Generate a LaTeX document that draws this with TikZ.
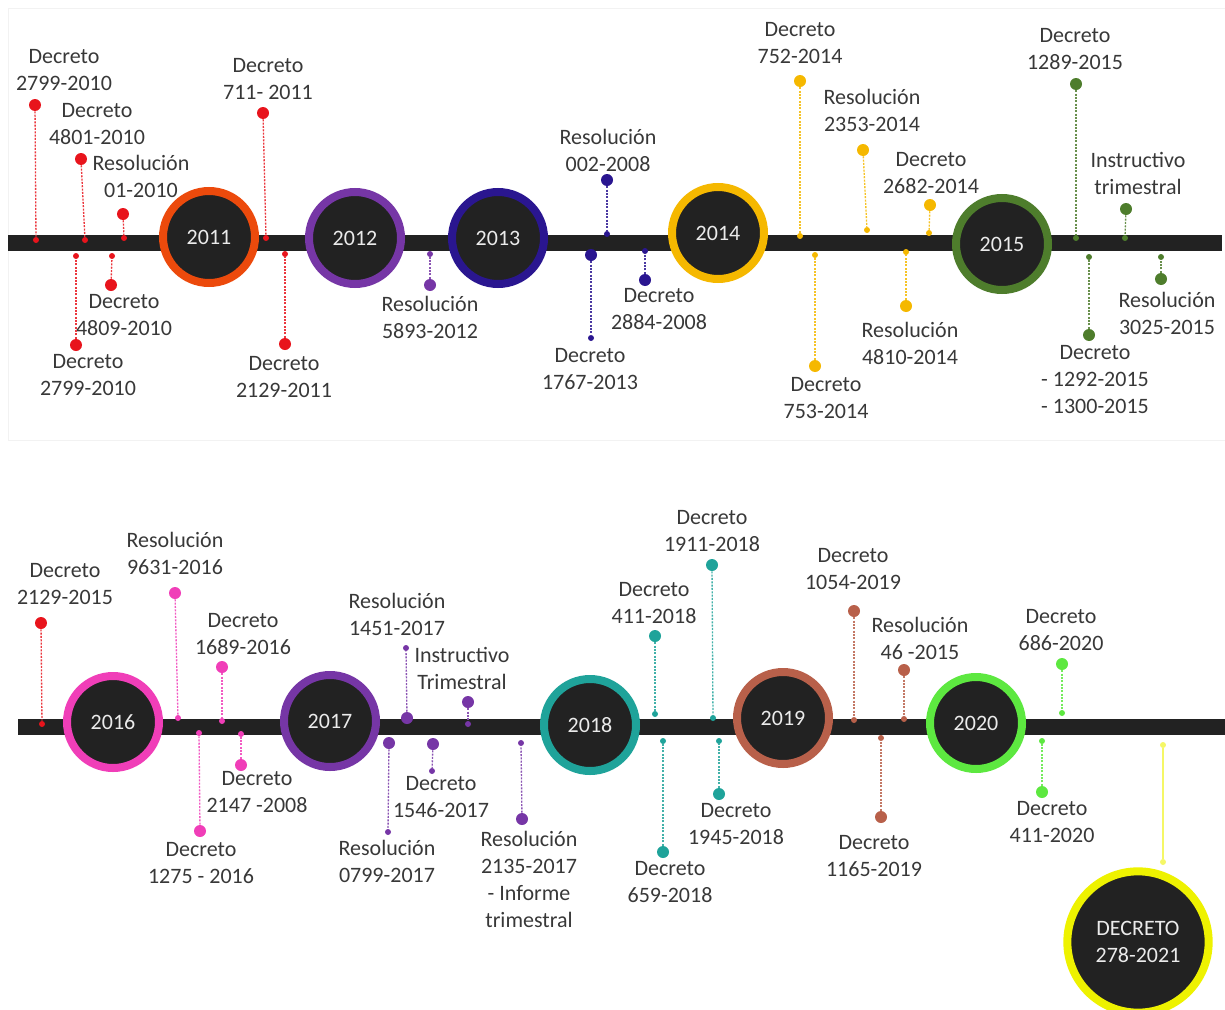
\documentclass[tikz,border=0pt]{standalone}
\usepackage{fontspec}
\setmainfont{Carlito}
\definecolor{testo}{HTML}{383838}
\definecolor{nero}{HTML}{222222}
\definecolor{rosso}{HTML}{E8141C}
\definecolor{arancio}{HTML}{EC4A0C}
\definecolor{viola}{HTML}{7636A6}
\definecolor{blu}{HTML}{2A1690}
\definecolor{oro}{HTML}{F5B800}
\definecolor{verde}{HTML}{4E7D2C}
\definecolor{magenta}{HTML}{F03EB8}
\definecolor{turchese}{HTML}{1FA39A}
\definecolor{marrone}{HTML}{B8604A}
\definecolor{verdechiaro}{HTML}{5DE840}
\definecolor{giallo}{HTML}{EEF200}
\tikzset{
    punto/.style={circle, fill=#1, inner sep=0pt, minimum size=9pt},
    tacca/.style={circle, fill=#1, inner sep=0pt, minimum size=4.5pt},
    filo/.style={draw=#1!85, dash pattern=on 1.5pt off 1pt, line width=1pt},
    etichetta/.style={align=center, text=testo, inner sep=0pt, font=\fontsize{16.5}{20.25}\selectfont},
    anno/.style={circle, draw=#1, line width=6pt, fill=nero, text=black!8, align=center, minimum size=69pt, inner sep=0pt, font=\fontsize{16.5}{20.25}\selectfont},
    barra/.style={nero, line width=11.5pt}
}
\begin{document}
\begin{tikzpicture}[x=0.75pt, y=-0.75pt]
\useasboundingbox (0,0) rectangle (1225,1010);
\draw[black!5] (8,8) rectangle (1225,440);

%linea superiore
\coordinate (ini1) at (8,243);
\coordinate (fin1) at (1222,243);
\draw[barra] (ini1) -- (fin1);

%anni 2011-2015
\node[anno=arancio] (c2011) at (209,237) {2011};
\node[anno=viola] (c2012) at (355,238) {2012};
\node[anno=blu] (c2013) at (498,238) {2013};
\node[anno=oro] (c2014) at (718,233) {2014};
\node[anno=verde] (c2015) at (1002,244) {2015};

%eventi 2010-2011 (rosso)
\node[punto=rosso] (p1) at (35,105) {};
\node[tacca=rosso] (q1) at (36,240) {};
\draw[filo=rosso] (p1) -- (q1);
\node[etichetta] (t1) at (64,70) {Decreto\\2799-2010};

\node[punto=rosso] (p2) at (81,159) {};
\node[tacca=rosso] (q2) at (85,240) {};
\draw[filo=rosso] (p2) -- (q2);
\node[etichetta] (t2) at (97,124) {Decreto\\4801-2010};

\node[punto=rosso] (p3) at (123,214) {};
\node[tacca=rosso] (q3) at (124,238) {};
\draw[filo=rosso] (p3) -- (q3);
\node[etichetta] (t3) at (141,176) {Resolución\\01-2010};

\node[punto=rosso] (p4) at (111,285) {};
\node[tacca=rosso] (q4) at (112,256) {};
\draw[filo=rosso] (p4) -- (q4);
\node[etichetta] (t4) at (124,315) {Decreto\\4809-2010};

\node[punto=rosso] (p5) at (76,345) {};
\node[tacca=rosso] (q5) at (76,256) {};
\draw[filo=rosso] (p5) -- (q5);
\node[etichetta] (t5) at (88,375) {Decreto\\2799-2010};

\node[punto=rosso] (p6) at (263,113) {};
\node[tacca=rosso] (q6) at (266,238) {};
\draw[filo=rosso] (p6) -- (q6);
\node[etichetta] (t6) at (268,79) {Decreto\\711- 2011};

\node[punto=rosso] (p7) at (285,344) {};
\node[tacca=rosso] (q7) at (285,254) {};
\draw[filo=rosso] (p7) -- (q7);
\node[etichetta] (t7) at (284,377) {Decreto\\2129-2011};

%eventi 2012 (viola)
\node[punto=viola] (p8) at (430,285) {};
\node[tacca=viola] (q8) at (430,254) {};
\draw[filo=viola] (p8) -- (q8);
\node[etichetta] (t8) at (430,317) {Resolución\\5893-2012};

%eventi 2013 (blu)
\node[punto=blu] (p9) at (607,180) {};
\node[tacca=blu] (q9) at (607,234) {};
\draw[filo=blu] (p9) -- (q9);
\node[etichetta] (t9) at (608,150) {Resolución\\002-2008};

\node[punto=blu] (p10) at (591,255) {};
\node[tacca=blu] (q10) at (591,338) {};
\draw[filo=blu] (p10) -- (q10);
\node[etichetta] (t10) at (590,369) {Decreto\\1767-2013};

\node[punto=blu] (p11) at (645,280) {};
\node[tacca=blu] (q11) at (645,251) {};
\draw[filo=blu] (p11) -- (q11);
\node[etichetta] (t11) at (659,309) {Decreto\\2884-2008};

%eventi 2014 (oro)
\node[punto=oro] (p12) at (800,81) {};
\node[tacca=oro] (q12) at (800,236) {};
\draw[filo=oro] (p12) -- (q12);
\node[etichetta] (t12) at (800,43) {Decreto\\752-2014};

\node[punto=oro] (p13) at (863,150) {};
\node[tacca=oro] (q13) at (867,230) {};
\draw[filo=oro] (p13) -- (q13);
\node[etichetta] (t13) at (872,110) {Resolución\\2353-2014};

\node[punto=oro] (p14) at (930,205) {};
\node[tacca=oro] (q14) at (929,233) {};
\draw[filo=oro] (p14) -- (q14);
\node[etichetta] (t14) at (931,173) {Decreto\\2682-2014};

\node[punto=oro] (p15) at (815,366) {};
\node[tacca=oro] (q15) at (815,255) {};
\draw[filo=oro] (p15) -- (q15);
\node[etichetta] (t15) at (826,398) {Decreto\\753-2014};

\node[punto=oro] (p16) at (906,306) {};
\node[tacca=oro] (q16) at (906,252) {};
\draw[filo=oro] (p16) -- (q16);
\node[etichetta] (t16) at (910,343) {Resolución\\4810-2014};

%eventi 2015 (verde)
\node[punto=verde] (p17) at (1076,84) {};
\node[tacca=verde] (q17) at (1076,238) {};
\draw[filo=verde] (p17) -- (q17);
\node[etichetta] (t17) at (1075,49) {Decreto\\1289-2015};

\node[punto=verde] (p18) at (1126,209) {};
\node[tacca=verde] (q18) at (1125,238) {};
\draw[filo=verde] (p18) -- (q18);
\node[etichetta] (t18) at (1138,173) {Instructivo\\trimestral};

\node[punto=verde] (p19) at (1089,335) {};
\node[tacca=verde] (q19) at (1089,257) {};
\draw[filo=verde] (p19) -- (q19);
\node[etichetta] (t19) at (1095,380) {Decreto\\- 1292-2015\\- 1300-2015};

\node[punto=verde] (p20) at (1161,279) {};
\node[tacca=verde] (q20) at (1161,257) {};
\draw[filo=verde] (p20) -- (q20);
\node[etichetta] (t20) at (1167,313) {Resolución\\3025-2015};

%linea inferiore
\coordinate (ini2) at (18,727);
\coordinate (fin2) at (1225,727);
\draw[barra] (ini2) -- (fin2);

%anni 2016-2020
\node[anno=magenta] (c2016) at (113,722) {2016};
\node[anno=viola] (c2017) at (330,721) {2017};
\node[anno=turchese] (c2018) at (590,725) {2018};
\node[anno=marrone] (c2019) at (783,718) {2019};
\node[anno=verdechiaro] (c2020) at (976,723) {2020};

%evento 2015 (rosso)
\node[punto=rosso] (p21) at (41,623) {};
\node[tacca=rosso] (q21) at (42,724) {};
\draw[filo=rosso] (p21) -- (q21);
\node[etichetta] (t21) at (65,584) {Decreto\\2129-2015};

%eventi 2016 (magenta)
\node[punto=magenta] (p22) at (175,593) {};
\node[tacca=magenta] (q22) at (178,718) {};
\draw[filo=magenta] (p22) -- (q22);
\node[etichetta] (t22) at (175,553) {Resolución\\9631-2016};

\node[punto=magenta] (p23) at (222,667) {};
\node[tacca=magenta] (q23) at (222,721) {};
\draw[filo=magenta] (p23) -- (q23);
\node[etichetta] (t23) at (243,634) {Decreto\\1689-2016};

\node[punto=magenta] (p24) at (200,831) {};
\node[tacca=magenta] (q24) at (199,733) {};
\draw[filo=magenta] (p24) -- (q24);
\node[etichetta] (t24) at (201,863) {Decreto\\1275 - 2016};

\node[punto=magenta] (p25) at (241,765) {};
\node[tacca=magenta] (q25) at (241,734) {};
\draw[filo=magenta] (p25) -- (q25);
\node[etichetta] (t25) at (257,792) {Decreto\\2147 -2008};

%eventi 2017 (viola)
\node[punto=viola] (p26) at (407,718) {};
\node[tacca=viola] (q26) at (406,648) {};
\draw[filo=viola] (p26) -- (q26);
\node[etichetta] (t26) at (397,614) {Resolución\\1451-2017};

\node[punto=viola] (p27) at (468,702) {};
\node[tacca=viola] (q27) at (468,724) {};
\draw[filo=viola] (p27) -- (q27);
\node[etichetta] (t27) at (462,668) {Instructivo\\Trimestral};

\node[punto=viola] (p28) at (389,743) {};
\node[tacca=viola] (q28) at (388,832) {};
\draw[filo=viola] (p28) -- (q28);
\node[etichetta] (t28) at (387,861) {Resolución\\0799-2017};

\node[punto=viola] (p29) at (433,744) {};
\node[tacca=viola] (q29) at (432,771) {};
\draw[filo=viola] (p29) -- (q29);
\node[etichetta] (t29) at (441,797) {Decreto\\1546-2017};

\node[punto=viola] (p30) at (522,819) {};
\node[tacca=viola] (q30) at (521,743) {};
\draw[filo=viola] (p30) -- (q30);
\node[etichetta] (t30) at (529,879) {Resolución\\2135-2017\\- Informe\\trimestral};

%eventi 2018 (turchese)
\node[punto=turchese] (p31) at (655,636) {};
\node[tacca=turchese] (q31) at (655,714) {};
\draw[filo=turchese] (p31) -- (q31);
\node[etichetta] (t31) at (654,603) {Decreto\\411-2018};

\node[punto=turchese] (p32) at (712,565) {};
\node[tacca=turchese] (q32) at (713,718) {};
\draw[filo=turchese] (p32) -- (q32);
\node[etichetta] (t32) at (712,531) {Decreto\\1911-2018};

\node[punto=turchese] (p33) at (663,852) {};
\node[tacca=turchese] (q33) at (663,741) {};
\draw[filo=turchese] (p33) -- (q33);
\node[etichetta] (t33) at (670,882) {Decreto\\659-2018};

\node[punto=turchese] (p34) at (719,794) {};
\node[tacca=turchese] (q34) at (719,741) {};
\draw[filo=turchese] (p34) -- (q34);
\node[etichetta] (t34) at (736,824) {Decreto\\1945-2018};

%eventi 2019 (marrone)
\node[punto=marrone] (p35) at (854,611) {};
\node[tacca=marrone] (q35) at (854,720) {};
\draw[filo=marrone] (p35) -- (q35);
\node[etichetta] (t35) at (853,569) {Decreto\\1054-2019};

\node[punto=marrone] (p36) at (904,670) {};
\node[tacca=marrone] (q36) at (904,719) {};
\draw[filo=marrone] (p36) -- (q36);
\node[etichetta] (t36) at (920,638) {Resolución\\46 -2015};

\node[punto=marrone] (p37) at (881,817) {};
\node[tacca=marrone] (q37) at (881,738) {};
\draw[filo=marrone] (p37) -- (q37);
\node[etichetta] (t37) at (874,856) {Decreto\\1165-2019};

%eventi 2020 (verde chiaro)
\node[punto=verdechiaro] (p38) at (1062,664) {};
\node[tacca=verdechiaro] (q38) at (1062,713) {};
\draw[filo=verdechiaro] (p38) -- (q38);
\node[etichetta] (t38) at (1061,630) {Decreto\\686-2020};

\node[punto=verdechiaro] (p39) at (1042,792) {};
\node[tacca=verdechiaro] (q39) at (1042,741) {};
\draw[filo=verdechiaro] (p39) -- (q39);
\node[etichetta] (t39) at (1052,822) {Decreto\\411-2020};

%decreto 2021
\node[tacca=giallo!60] (q40) at (1163,745) {};
\node[tacca=giallo!60] (p40) at (1163,862) {};
\draw[giallo!60, line width=1pt] (q40) -- (p40);
\node[anno=giallo, minimum size=106pt] (c2021) at (1138,942) {DECRETO\\278-2021};
\end{tikzpicture}
\end{document}
